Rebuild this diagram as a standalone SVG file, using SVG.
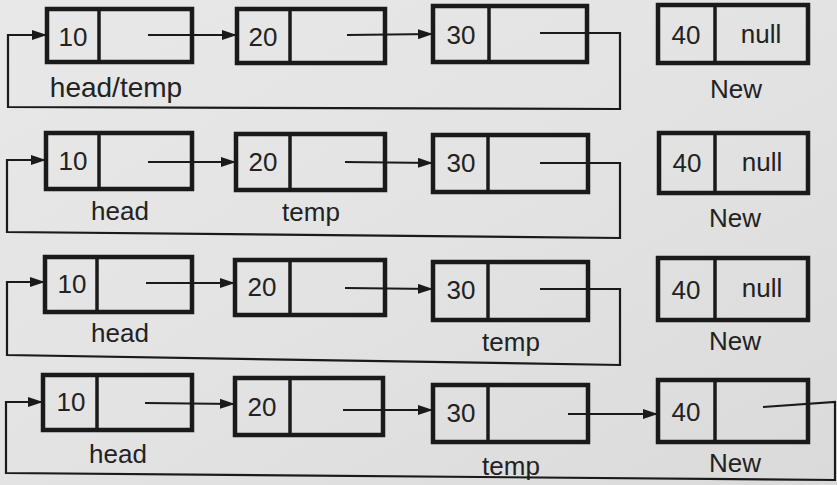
<svg xmlns="http://www.w3.org/2000/svg" width="837" height="485" viewBox="0 0 837 485">
  <defs>
    <linearGradient id="paper" x1="0" y1="0" x2="1" y2="1">
      <stop offset="0" stop-color="#e8e8e8"/>
      <stop offset="0.5" stop-color="#e3e3e3"/>
      <stop offset="1" stop-color="#dadada"/>
    </linearGradient>
    <marker id="arrow" viewBox="0 0 15 10" refX="15" refY="5" markerWidth="15" markerHeight="10" markerUnits="userSpaceOnUse" orient="auto">
      <path d="M0,0 L15,5 L0,10 Z" fill="#1a1a1a"/>
    </marker>
    <style>
      .box { fill: none; stroke: #1a1a1a; stroke-width: 4.5; }
      .div { stroke: #1a1a1a; stroke-width: 3.5; }
      .link { fill: none; stroke: #1a1a1a; stroke-width: 2.2; }
      .val { font-family: "Liberation Sans", Arial, sans-serif; font-size: 26px; fill: #222; text-anchor: middle; }
      .lbl { font-family: "Liberation Sans", Arial, sans-serif; font-size: 26px; fill: #222; text-anchor: middle; }
      .big { font-size: 28px; }
    </style>
  </defs>

  <rect x="0" y="0" width="837" height="485" fill="url(#paper)"/>

  <!-- Row 1: temp at head -->
  <g id="r1n10">
    <rect class="box" x="47" y="9" width="145" height="53"/>
    <line class="div" x1="99" y1="9" x2="99" y2="62"/>
    <text class="val" x="73" y="46">10</text>
  </g>
  <g id="r1n20">
    <rect class="box" x="237" y="9" width="148" height="54"/>
    <line class="div" x1="290" y1="9" x2="290" y2="63"/>
    <text class="val" x="263" y="46">20</text>
  </g>
  <g id="r1n30">
    <rect class="box" x="433" y="6" width="154" height="56"/>
    <line class="div" x1="489" y1="6" x2="489" y2="62"/>
    <text class="val" x="461" y="44">30</text>
  </g>
  <g id="r1n40">
    <rect class="box" x="658" y="5" width="150" height="58"/>
    <line class="div" x1="715" y1="5" x2="715" y2="63"/>
    <text class="val" x="686" y="44">40</text>
    <text class="val" x="761" y="43">null</text>
  </g>
  <g id="r1labels">
    <text class="lbl big" x="116" y="97">head/temp</text>
    <text class="lbl" x="736" y="98">New</text>
  </g>

  <!-- Row 2: temp at second node -->
  <g id="r2n10">
    <rect class="box" x="46" y="133" width="146" height="56"/>
    <line class="div" x1="99" y1="133" x2="99" y2="189"/>
    <text class="val" x="73" y="170">10</text>
  </g>
  <g id="r2n20">
    <rect class="box" x="236" y="134" width="149" height="56"/>
    <line class="div" x1="290" y1="134" x2="290" y2="190"/>
    <text class="val" x="263" y="171">20</text>
  </g>
  <g id="r2n30">
    <rect class="box" x="433" y="135" width="155" height="57"/>
    <line class="div" x1="488" y1="135" x2="488" y2="192"/>
    <text class="val" x="461" y="172">30</text>
  </g>
  <g id="r2n40">
    <rect class="box" x="659" y="133" width="149" height="60"/>
    <line class="div" x1="715" y1="133" x2="715" y2="193"/>
    <text class="val" x="687" y="172">40</text>
    <text class="val" x="762" y="171">null</text>
  </g>
  <g id="r2labels">
    <text class="lbl" x="120" y="220">head</text>
    <text class="lbl" x="311" y="221">temp</text>
    <text class="lbl" x="735" y="227">New</text>
  </g>

  <!-- Row 3: temp at last node -->
  <g id="r3n10">
    <rect class="box" x="45" y="257" width="147" height="55"/>
    <line class="div" x1="97" y1="257" x2="97" y2="312"/>
    <text class="val" x="72" y="293">10</text>
  </g>
  <g id="r3n20">
    <rect class="box" x="235" y="260" width="150" height="55"/>
    <line class="div" x1="290" y1="260" x2="290" y2="315"/>
    <text class="val" x="262" y="296">20</text>
  </g>
  <g id="r3n30">
    <rect class="box" x="433" y="262" width="155" height="58"/>
    <line class="div" x1="488" y1="262" x2="488" y2="320"/>
    <text class="val" x="461" y="299">30</text>
  </g>
  <g id="r3n40">
    <rect class="box" x="658" y="258" width="150" height="62"/>
    <line class="div" x1="715" y1="258" x2="715" y2="320"/>
    <text class="val" x="686" y="299">40</text>
    <text class="val" x="762" y="297">null</text>
  </g>
  <g id="r3labels">
    <text class="lbl" x="120" y="342">head</text>
    <text class="lbl" x="511" y="351">temp</text>
    <text class="lbl" x="735" y="350">New</text>
  </g>

  <!-- Row 4: New appended -->
  <g id="r4n10">
    <rect class="box" x="43" y="375" width="149" height="55"/>
    <line class="div" x1="97" y1="375" x2="97" y2="430"/>
    <text class="val" x="71" y="411">10</text>
  </g>
  <g id="r4n20">
    <rect class="box" x="235" y="378" width="148" height="57"/>
    <line class="div" x1="290" y1="378" x2="290" y2="435"/>
    <text class="val" x="262" y="416">20</text>
  </g>
  <g id="r4n30">
    <rect class="box" x="433" y="385" width="155" height="57"/>
    <line class="div" x1="488" y1="385" x2="488" y2="442"/>
    <text class="val" x="461" y="422">30</text>
  </g>
  <g id="r4n40">
    <rect class="box" x="658" y="380" width="150" height="62"/>
    <line class="div" x1="715" y1="380" x2="715" y2="442"/>
    <text class="val" x="686" y="421">40</text>
  </g>
  <g id="r4labels">
    <text class="lbl" x="118" y="463">head</text>
    <text class="lbl" x="511" y="475">temp</text>
    <text class="lbl" x="735" y="472">New</text>
  </g>

  <!-- Links -->
  <g id="connectors">
    <line class="link" x1="148" y1="35" x2="237" y2="35" marker-end="url(#arrow)"/>
    <line class="link" x1="347" y1="35" x2="433" y2="34" marker-end="url(#arrow)"/>
    <polyline class="link" points="540,33 620,33 620,109 8,107 8,35 47,35" marker-end="url(#arrow)"/>

    <line class="link" x1="148" y1="162" x2="236" y2="162" marker-end="url(#arrow)"/>
    <line class="link" x1="345" y1="162" x2="433" y2="163" marker-end="url(#arrow)"/>
    <polyline class="link" points="540,163 620,163 620,238 7,232 7,160 46,160" marker-end="url(#arrow)"/>

    <line class="link" x1="146" y1="283" x2="235" y2="283" marker-end="url(#arrow)"/>
    <line class="link" x1="345" y1="288" x2="433" y2="289" marker-end="url(#arrow)"/>
    <polyline class="link" points="540,289 620,289 620,365 7,355 7,282 45,282" marker-end="url(#arrow)"/>

    <line class="link" x1="145" y1="403" x2="235" y2="404" marker-end="url(#arrow)"/>
    <line class="link" x1="343" y1="410" x2="433" y2="410" marker-end="url(#arrow)"/>
    <line class="link" x1="568" y1="414" x2="658" y2="414" marker-end="url(#arrow)"/>
    <polyline class="link" points="763,407 835,402 835,480 6,473 6,402 43,402" marker-end="url(#arrow)"/>
  </g>
</svg>
